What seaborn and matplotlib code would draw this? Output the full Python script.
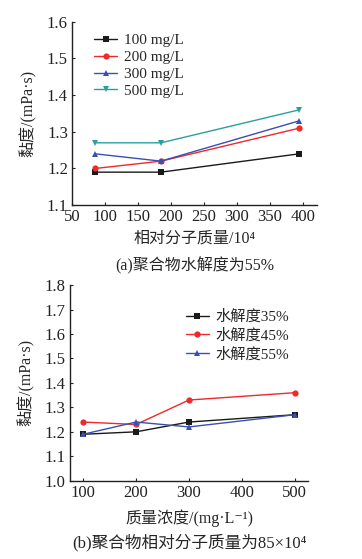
import matplotlib
matplotlib.use("Agg")
import matplotlib.pyplot as plt
import seaborn as sns
import pandas as pd

# Panel (a)
mw = [85, 185, 395]
conc_labels = ["100 mg/L", "200 mg/L", "300 mg/L", "500 mg/L"]
visc_a = {
    "100 mg/L": [1.19, 1.19, 1.24],
    "200 mg/L": [1.20, 1.22, 1.31],
    "300 mg/L": [1.24, 1.22, 1.33],
    "500 mg/L": [1.27, 1.27, 1.36],
}
# Panel (b)
conc = [100, 200, 300, 500]
hyd_labels = ["水解度35%", "水解度45%", "水解度55%"]
visc_b = {
    "水解度35%": [1.19, 1.20, 1.24, 1.27],
    "水解度45%": [1.24, 1.23, 1.33, 1.36],
    "水解度55%": [1.19, 1.24, 1.22, 1.27],
}

sns.set_theme(style="ticks")
plt.rcParams["font.family"] = ["Liberation Serif", "Noto Sans CJK SC", "DejaVu Sans"]
plt.rcParams["axes.unicode_minus"] = False

fig = plt.figure(figsize=(3.62, 5.59), dpi=100)
ax1 = fig.add_axes([0.199, 0.633, 0.677, 0.328])
ax2 = fig.add_axes([0.193, 0.140, 0.658, 0.350])

colors_a = ["#1a1a1a", "#ee2a2a", "#3a4fb0", "#2a9f9f"]
markers_a = ["s", "o", "^", "v"]
rows = []
for lab in conc_labels:
    for x, y in zip(mw, visc_a[lab]):
        rows.append({"x": x, "y": y, "s": lab})
dfa = pd.DataFrame(rows)
sns.lineplot(data=dfa, x="x", y="y", hue="s", style="s", palette=colors_a,
             markers=markers_a, dashes=False, markersize=4.5, linewidth=1.0,
             markeredgewidth=0, ax=ax1)

colors_b = ["#1a1a1a", "#ee2a2a", "#3a4fb0"]
markers_b = ["s", "o", "^"]
rows = []
for lab in hyd_labels:
    for x, y in zip(conc, visc_b[lab]):
        rows.append({"x": x, "y": y, "s": lab})
dfb = pd.DataFrame(rows)
sns.lineplot(data=dfb, x="x", y="y", hue="s", style="s", palette=colors_b,
             markers=markers_b, dashes=False, markersize=4.5, linewidth=1.0,
             markeredgewidth=0, ax=ax2)

for ax in (ax1, ax2):
    sns.despine(ax=ax)
    ax.tick_params(direction="in", length=2.5, width=0.8, labelsize=12,
                   colors="#222222", pad=3)
    for sp in ("left", "bottom"):
        ax.spines[sp].set_linewidth(1.0)
        ax.spines[sp].set_color("#222222")

ax1.set_xlim(50, 422)
ax1.set_ylim(1.1, 1.6)
ax1.set_xticks([50, 100, 150, 200, 250, 300, 350, 400])
ax1.set_yticks([1.1, 1.2, 1.3, 1.4, 1.5, 1.6])
ax1.yaxis.set_major_formatter(matplotlib.ticker.FormatStrFormatter("%.1f"))
ax1.set_xlabel("相对分子质量/10⁴", fontsize=11.5, labelpad=4)
ax1.set_ylabel("黏度/(mPa·s)", fontsize=11.5, labelpad=7)
ax1.legend(loc="upper left", bbox_to_anchor=(0.035, 1.01), frameon=False,
           fontsize=11, handlelength=1.5, labelspacing=0.2, handletextpad=0.45)
ax1.text(0.5, -0.28, "(a)聚合物水解度为55%", transform=ax1.transAxes,
         ha="center", va="top", fontsize=11.5)

ax2.set_xlim(75, 525)
ax2.set_ylim(1.0, 1.8)
ax2.set_xticks([100, 200, 300, 400, 500])
ax2.set_yticks([1.0, 1.1, 1.2, 1.3, 1.4, 1.5, 1.6, 1.7, 1.8])
ax2.yaxis.set_major_formatter(matplotlib.ticker.FormatStrFormatter("%.1f"))
ax2.set_xlabel("质量浓度/(mg·L⁻¹)", fontsize=11.5, labelpad=6)
ax2.set_ylabel("黏度/(mPa·s)", fontsize=11.5, labelpad=7)
ax2.legend(loc="upper left", bbox_to_anchor=(0.43, 0.945), frameon=False,
           fontsize=11, handlelength=1.5, labelspacing=0.3, handletextpad=0.45)
ax2.text(0.5, -0.27, "(b)聚合物相对分子质量为85×10⁴", transform=ax2.transAxes,
         ha="center", va="top", fontsize=12)

fig.savefig("out.png", dpi=100)
